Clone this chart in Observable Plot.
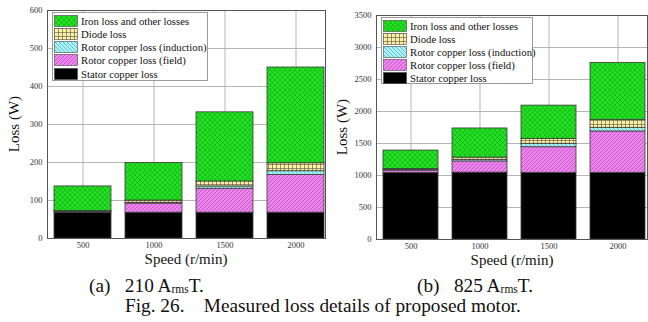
<!DOCTYPE html>
<html><head><meta charset="utf-8">
<script src="https://cdn.jsdelivr.net/npm/d3@7"></script>
<script src="https://cdn.jsdelivr.net/npm/@observablehq/plot@0.6"></script>
<style>
body{margin:0;background:#fff;font-family:"Liberation Serif","Times New Roman",serif;color:#111;}
#root{position:relative;width:648px;height:322px;overflow:hidden;}
.chart{position:absolute;top:0;}
.chart text{font-family:"Liberation Serif",serif;}
.legend{position:absolute;background:#fff;border:1px solid #9a9a9a;box-sizing:border-box;}
.row{position:absolute;left:1px;height:13px;display:flex;align-items:center;white-space:nowrap;font-size:10.7px;}
.row svg{margin-right:3px;}
.lab{position:absolute;white-space:nowrap;font-size:15px;line-height:1;transform:translate(-50%,-50%);}
.rot{transform:translate(-50%,-50%) rotate(-90deg);}
.cap{position:absolute;white-space:pre;font-size:19.3px;line-height:1;}
.cap sub{font-size:11.5px;vertical-align:-1px;}
</style></head><body>
<svg width="0" height="0" style="position:absolute">
<defs>
<pattern id="pIron" patternUnits="userSpaceOnUse" width="5" height="5"><rect width="5" height="5" fill="#22e022"/><path d="M-1,1L1,-1M0,5L5,0M4,6L6,4M-1,4L1,6M0,0L5,5M4,-1L6,1" stroke="#139a13" stroke-width="0.55"/></pattern>
<pattern id="pDiode" patternUnits="userSpaceOnUse" width="4" height="4"><rect width="4" height="4" fill="#fff2a6"/><path d="M0.5,0V4M0,0.5H4" stroke="#6a6548" stroke-width="0.7"/></pattern>
<pattern id="pInd" patternUnits="userSpaceOnUse" width="4" height="4"><rect width="4" height="4" fill="#aef3f3"/><path d="M-1,3L1,5M0,0L4,4M3,-1L5,1" stroke="#3aa9c0" stroke-width="0.7"/></pattern>
<pattern id="pField" patternUnits="userSpaceOnUse" width="4" height="4"><rect width="4" height="4" fill="#ee84ee"/><path d="M-1,1L1,-1M0,4L4,0M3,5L5,3" stroke="#b048b0" stroke-width="0.7"/></pattern>
</defs></svg>
<div id="root"></div>
<script>
const speeds = ["500", "1000", "1500", "2000"];
const series = ["Stator copper loss", "Rotor copper loss (field)", "Rotor copper loss (induction)", "Diode loss", "Iron loss and other losses"];
const fills = ["#000000", "url(#pField)", "url(#pInd)", "url(#pDiode)", "url(#pIron)"];

// (a) 210 Arms T — component losses (W) per speed
const statorA = [68, 68, 68, 68];
const fieldA = [2, 24, 63, 99];
const inductionA = [1, 2, 6, 10];
const diodeA = [1, 6, 13, 21];
const ironA = [65, 99, 182, 252];
const yTicksA = [0, 100, 200, 300, 400, 500, 600];

// (b) 825 Arms T — component losses (W) per speed
const statorB = [1040, 1045, 1042, 1042];
const fieldB = [35, 175, 400, 646];
const inductionB = [12, 25, 53, 57];
const diodeB = [13, 35, 78, 125];
const ironB = [290, 455, 519, 890];
const yTicksB = [0, 500, 1000, 1500, 2000, 2500, 3000, 3500];

function table(cols) {
  const rows = [];
  cols.forEach((vals, si) => vals.forEach((v, i) => rows.push({speed: speeds[i], series: series[si], value: v})));
  return rows;
}

function chart(data, yTicks, o) {
  return Plot.plot({
    width: o.width, height: 262,
    marginLeft: o.ml, marginRight: o.mr, marginTop: o.mt, marginBottom: o.mb,
    style: {fontFamily: "Liberation Serif, serif", fontSize: "8.5px", color: "#333", background: "transparent", overflow: "visible"},
    x: {domain: speeds, paddingInner: 0.2, paddingOuter: o.po, align: o.al, label: null},
    y: {domain: [yTicks[0], yTicks[yTicks.length - 1]], label: null},
    color: {domain: series, range: fills},
    marks: [
      Plot.gridX(speeds, {stroke: "#b5b5b5", strokeOpacity: 1}),
      Plot.gridY(yTicks, {stroke: "#b5b5b5", strokeOpacity: 1}),
      Plot.barY(data, Plot.stackY({x: "speed", y: "value", fill: "series", stroke: "#3a3a3a", strokeWidth: 0.8})),
      Plot.axisY(yTicks, {tickSize: 0, tickPadding: 5, tickFormat: d => String(d), label: null}),
      Plot.axisX(speeds, {tickSize: 0, tickPadding: 3, label: null}),
      Plot.frame({stroke: "#555", strokeWidth: 1})
    ]
  });
}

const root = document.getElementById("root");
function place(el, x) { el.classList.add("chart"); el.style.left = x + "px"; root.appendChild(el); }

place(chart(table([statorA, fieldA, inductionA, diodeA, ironA]), yTicksA, {width: 325, ml: 47, mr: 0, mt: 10, mb: 24, po: 0.056, al: 0.875}), 0);
place(chart(table([statorB, fieldB, inductionB, diodeB, ironB]), yTicksB, {width: 323, ml: 51, mr: 1, mt: 15, mb: 23, po: 0.058, al: 0.75}), 325);

function legend(x, y, w, h, step) {
  const d = document.createElement("div");
  d.className = "legend";
  Object.assign(d.style, {left: x + "px", top: y + "px", width: w + "px", height: h + "px"});
  series.slice().reverse().forEach((s, i) => {
    const f = fills[series.length - 1 - i];
    const r = document.createElement("div");
    r.className = "row";
    r.style.top = (1 + i * step) + "px";
    r.innerHTML = `<svg width="24" height="12"><rect x="0.5" y="0.5" width="23" height="11" fill="${f}" stroke="#444" stroke-width="0.6"/></svg><span>${s}</span>`;
    d.appendChild(r);
  });
  root.appendChild(d);
}
legend(52, 12, 156, 69, 13.3);
legend(381, 17, 152, 67, 13);

function label(text, x, y, rot) {
  const d = document.createElement("div");
  d.className = "lab" + (rot ? " rot" : "");
  d.textContent = text;
  Object.assign(d.style, {left: x + "px", top: y + "px"});
  root.appendChild(d);
}
label("Loss (W)", 14, 124, true);
label("Speed (r/min)", 186, 259);
label("Loss (W)", 342, 127, true);
label("Speed (r/min)", 512, 260);

function cap(html, x, y) {
  const d = document.createElement("div");
  d.className = "cap";
  d.innerHTML = html;
  Object.assign(d.style, {left: x + "px", top: y + "px"});
  root.appendChild(d);
}
cap("(a)   210 A<sub>rms</sub>T.", 89, 276);
cap("(b)   825 A<sub>rms</sub>T.", 417, 276);
cap("Fig. 26.    Measured loss details of proposed motor.", 125, 296);
</script>
</body></html>
